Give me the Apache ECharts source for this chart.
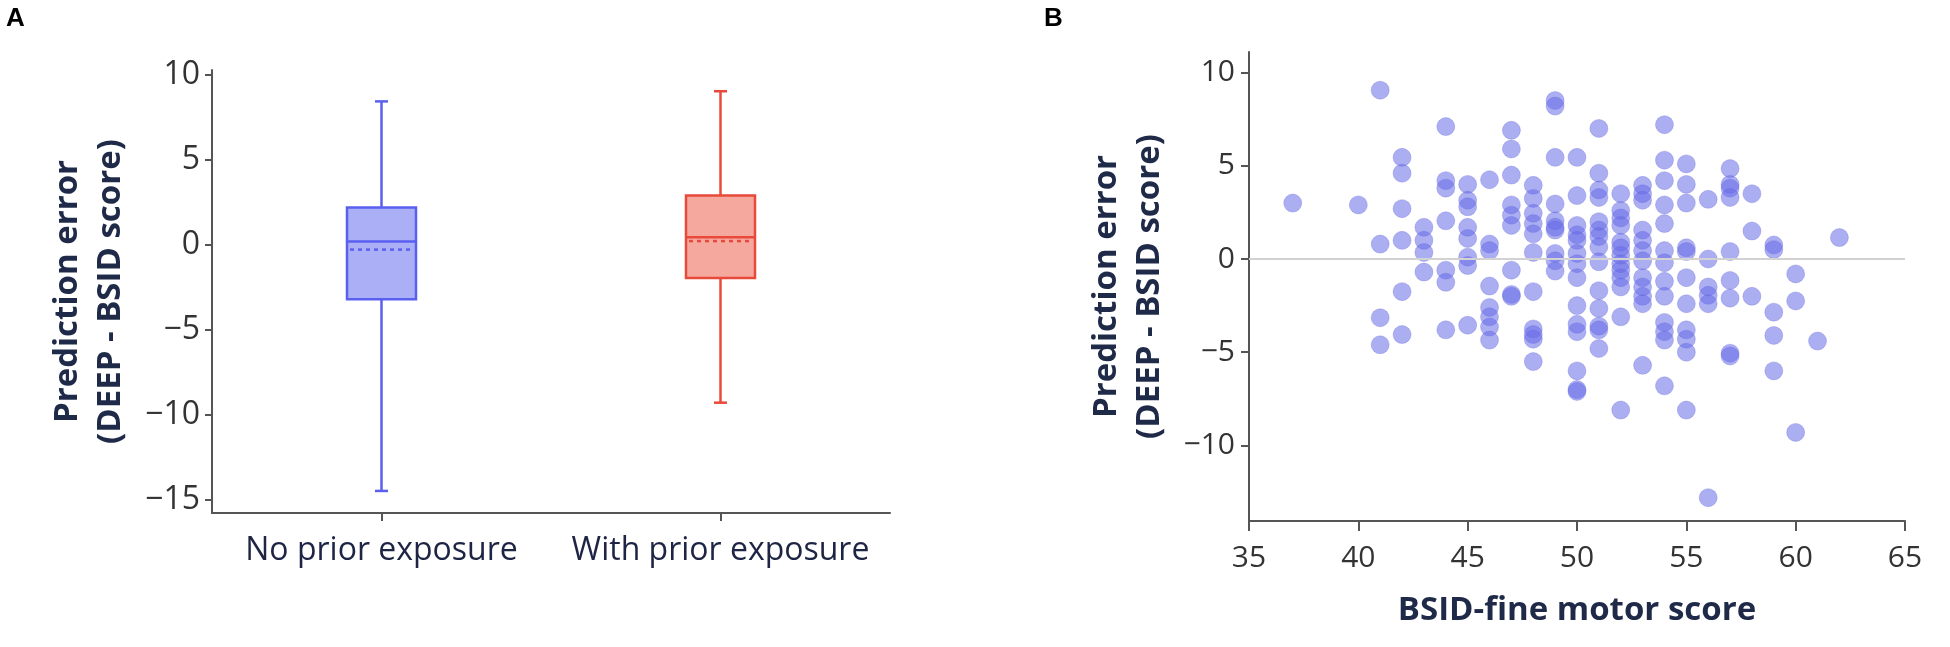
<!DOCTYPE html>
<html>
<head>
<meta charset="utf-8">
<title>Prediction error</title>
<script src="https://cdn.jsdelivr.net/npm/echarts@6/dist/echarts.min.js"></script>
<style>
  html, body { margin: 0; padding: 0; background: #fff; }
  #chart { width: 1950px; height: 647px; }
</style>
</head>
<body>
<div id="chart"></div>
<script>
// panel A: box plot summary per group
const groups = ['No prior exposure', 'With prior exposure'];
const boxMin = [-14.5, -9.3];
const boxQ1 = [-3.2, -1.95];
const boxMedian = [0.2, 0.45];
const boxQ3 = [2.2, 2.9];
const boxMax = [8.45, 9.05];
const boxMean = [-0.28, 0.22];

// panel B: fine motor score vs prediction error
const fineMotor = [
  37, 40,
  41, 41, 41, 41,
  42, 42, 42, 42, 42, 42,
  43, 43, 43, 43,
  44, 44, 44, 44, 44, 44, 44,
  45, 45, 45, 45, 45, 45, 45, 45,
  46, 46, 46, 46, 46, 46, 46, 46,
  47, 47, 47, 47, 47, 47, 47, 47, 47,
  48, 48, 48, 48, 48, 48, 48, 48, 48, 48, 48,
  49, 49, 49, 49, 49, 49, 49, 49, 49, 49,
  50, 50, 50, 50, 50, 50, 50, 50, 50, 50, 50, 50, 50, 50,
  51, 51, 51, 51, 51, 51, 51, 51, 51, 51, 51, 51, 51, 51,
  52, 52, 52, 52, 52, 52, 52, 52, 52, 52, 52, 52, 52,
  53, 53, 53, 53, 53, 53, 53, 53, 53, 53, 53, 53,
  54, 54, 54, 54, 54, 54, 54, 54, 54, 54, 54, 54, 54,
  55, 55, 55, 55, 55, 55, 55, 55, 55, 55, 55,
  56, 56, 56, 56, 56, 56,
  57, 57, 57, 57, 57, 57, 57, 57, 57,
  58, 58, 58,
  59, 59, 59, 59, 59,
  60, 60, 60,
  61, 62
];
const predError = [
  3.0, 2.9,
  9.05, 0.8, -3.15, -4.6,
  5.45, 4.6, 2.7, 1.0, -1.75, -4.05,
  1.7, 1.0, 0.35, -0.7,
  7.1, 4.2, 3.8, 2.05, -0.6, -1.25, -3.8,
  4.0, 3.15, 2.8, 1.7, 1.1, 0.1, -0.35, -3.55,
  4.25, 0.8, 0.45, -1.45, -2.6, -3.1, -3.65, -4.35,
  6.9, 5.9, 4.5, 2.9, 2.35, 1.8, -0.6, -1.9, -2.0,
  3.95, 3.25, 2.45, 1.9, 1.35, 0.35, -1.75, -3.75, -4.05, -4.3, -5.5,
  8.5, 8.2, 5.45, 2.95, 2.05, 1.7, 1.55, 0.3, -0.1, -0.65,
  5.45, 3.4, 1.8, 1.3, 1.0, 0.3, -0.25, -1.0, -2.5, -3.5, -3.9, -6.0, -7.0, -7.1,
  7.0, 4.6, 3.7, 3.3, 2.0, 1.55, 1.2, 0.65, -0.15, -1.7, -2.65, -3.6, -3.8, -4.8,
  3.5, 2.6, 2.2, 1.8, 0.9, 0.6, 0.2, -0.25, -0.6, -1.0, -1.5, -3.1, -8.1,
  3.95, 3.5, 3.15, 1.55, 1.0, 0.45, -0.1, -1.0, -1.5, -2.0, -2.4, -5.7,
  7.2, 5.3, 4.2, 2.9, 1.9, 0.45, -0.2, -1.2, -2.0, -3.4, -3.9, -4.35, -6.8,
  5.1, 4.0, 3.0, 0.6, 0.4, -1.0, -2.4, -3.8, -4.3, -5.0, -8.1,
  3.2, 0.0, -1.5, -1.95, -2.4, -12.8,
  4.85, 4.0, 3.8, 3.3, 0.4, -1.15, -2.1, -5.05, -5.2,
  3.5, 1.5, -2.0,
  0.75, 0.5, -2.85, -4.1, -6.0,
  -0.8, -2.25, -9.3,
  -4.4, 1.15
];

const leftTicks = [-15, -10, -5, 0, 5, 10];
const rightTicks = [-10, -5, 0, 5, 10];

const FONT = '"Open Sans", "Noto Sans", sans-serif';
const boxColors = [
  { stroke: '#5a5ff0', fill: '#abb0f6' },
  { stroke: '#e8493a', fill: '#f4a89e' }
];

const chart = echarts.init(document.getElementById('chart'));

// box rows for the custom series
const boxRows = groups.map((g, i) => [i, boxMin[i], boxQ1[i], boxMedian[i], boxQ3[i], boxMax[i], boxMean[i]]);
const points = fineMotor.map((x, i) => [x, predError[i]]);

// typographic minus like the original figure
const minus = v => String(v).replace('-', '\u2212');

function renderBox(params, api) {
  const idx = api.value(0);
  const cx = api.coord([idx, 0])[0];
  const y = k => api.coord([idx, api.value(k)])[1];
  const yMin = y(1), yQ1 = y(2), yMed = y(3), yQ3 = y(4), yMax = y(5), yMean = y(6);
  const half = 34.5, cap = 6.5;
  const c = boxColors[idx];
  const line = (x1, y1, x2, y2, extra) => ({
    type: 'line',
    shape: { x1, y1, x2, y2 },
    style: Object.assign({ stroke: c.stroke, lineWidth: 2.5 }, extra || {})
  });
  return {
    type: 'group',
    children: [
      line(cx, yQ3, cx, yMax),
      line(cx, yQ1, cx, yMin),
      line(cx - cap, yMax, cx + cap, yMax),
      line(cx - cap, yMin, cx + cap, yMin),
      {
        type: 'rect',
        shape: { x: cx - half, y: yQ3, width: half * 2, height: yQ1 - yQ3 },
        style: { fill: c.fill, stroke: c.stroke, lineWidth: 2.5 }
      },
      line(cx - half, yMed, cx + half, yMed),
      line(cx - half + 3, yMean, cx + half - 3, yMean, { lineDash: [4, 4], lineWidth: 2.5 })
    ]
  };
}

const tickLabel = { color: '#333', fontFamily: FONT, formatter: minus };
const axisTitle = { color: '#1f2a48', fontFamily: FONT, fontWeight: 'bold', fontSize: 33, lineHeight: 43 };
const axisLine = { show: true, onZero: false, lineStyle: { color: '#555', width: 2 } };

chart.setOption({
  animation: false,
  textStyle: { fontFamily: FONT },
  graphic: [
    { type: 'text', left: 6, top: 6, style: { text: 'A', font: 'bold 26px "Liberation Sans", Arial, sans-serif', fill: '#000' } },
    { type: 'text', left: 1044, top: 6, style: { text: 'B', font: 'bold 26px "Liberation Sans", Arial, sans-serif', fill: '#000' } }
  ],
  grid: [
    { left: 212, right: 1060, top: 70, bottom: 134 },
    { left: 1249, right: 45, top: 52, bottom: 126 }
  ],
  xAxis: [
    {
      type: 'category',
      gridIndex: 0,
      data: groups,
      boundaryGap: true,
      axisLine: axisLine,
      axisTick: { show: true, alignWithLabel: true, length: 8, lineStyle: { color: '#555', width: 2 } },
      axisLabel: { fontSize: 32, color: '#1e2444', fontFamily: FONT, margin: 22, interval: 0 },
      splitLine: { show: false }
    },
    {
      type: 'value',
      gridIndex: 1,
      min: 35,
      max: 65,
      interval: 5,
      axisLine: axisLine,
      axisTick: { show: true, length: 10, lineStyle: { color: '#555', width: 2 } },
      axisLabel: Object.assign({ fontSize: 30, margin: 22 }, tickLabel),
      splitLine: { show: false },
      name: 'BSID-fine motor score',
      nameLocation: 'middle',
      nameGap: 68,
      nameTextStyle: axisTitle
    }
  ],
  yAxis: [
    {
      type: 'value',
      gridIndex: 0,
      min: -15.8,
      max: 10.3,
      axisLine: axisLine,
      axisTick: { show: true, length: 7, customValues: leftTicks, lineStyle: { color: '#555', width: 2 } },
      axisLabel: Object.assign({ fontSize: 32, margin: 12, customValues: leftTicks }, tickLabel),
      splitLine: { show: false },
      name: 'Prediction error\n(DEEP - BSID score)',
      nameLocation: 'middle',
      nameGap: 80,
      nameTextStyle: axisTitle
    },
    {
      type: 'value',
      gridIndex: 1,
      min: -14.05,
      max: 11.1,
      axisLine: axisLine,
      axisTick: { show: true, length: 8, customValues: rightTicks, lineStyle: { color: '#555', width: 2 } },
      axisLabel: Object.assign({ fontSize: 30, margin: 14, customValues: rightTicks }, tickLabel),
      splitLine: { show: false },
      name: 'Prediction error\n(DEEP - BSID score)',
      nameLocation: 'middle',
      nameGap: 78,
      nameTextStyle: axisTitle
    }
  ],
  series: [
    {
      type: 'custom',
      xAxisIndex: 0,
      yAxisIndex: 0,
      renderItem: renderBox,
      data: boxRows,
      encode: { x: 0, y: [1, 2, 3, 4, 5, 6] }
    },
    {
      type: 'scatter',
      xAxisIndex: 1,
      yAxisIndex: 1,
      data: points,
      symbolSize: 18,
      itemStyle: { color: 'rgba(101,106,231,0.68)', borderColor: 'rgba(90,95,215,0.35)', borderWidth: 1 },
      markLine: {
        silent: true,
        symbol: 'none',
        label: { show: false },
        lineStyle: { color: '#d2d2d2', width: 2, type: 'solid' },
        data: [{ yAxis: 0 }]
      }
    }
  ]
});
</script>
</body>
</html>
